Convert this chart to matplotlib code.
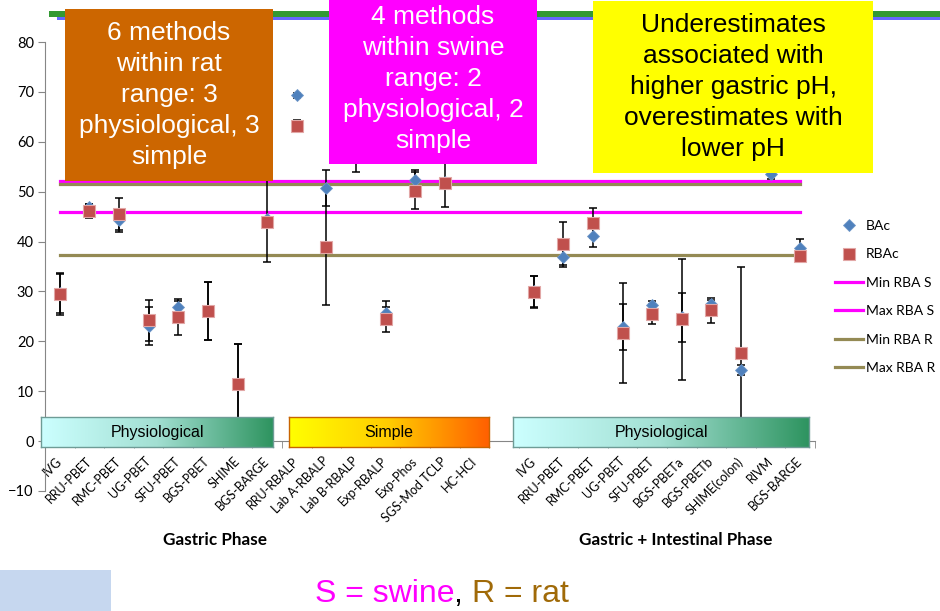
import numpy as np
import matplotlib
matplotlib.use('Agg')
import matplotlib.pyplot as plt
from matplotlib.patches import Rectangle
from matplotlib.colors import LinearSegmentedColormap

# ---------------- data ----------------
gastric_methods = ["IVG", "RRU-PBET", "RMC-PBET", "UG-PBET", "SFU-PBET", "BGS-PBET",
                   "SHIME", "BGS-BARGE", "RRU-RBALP", "Lab A-RBALP", "Lab B-RBALP",
                   "Exp-RBALP", "Exp-Phos", "SGS-Mod TCLP", "HC-HCl"]
gi_methods = ["IVG", "RRU-PBET", "RMC-PBET", "UG-PBET", "SFU-PBET", "BGS-PBETa",
              "BGS-PBETb", "SHIME(colon)", "RIVM", "BGS-BARGE"]
categories = gastric_methods + [""] + gi_methods

nan = np.nan
bac = [29.6, 47.0, 44.3, 23.0, 26.8, 26.0, 11.5, 44.6, 69.3, 50.8, 59.0, 25.7, 52.4, 52.0, nan,
       nan,
       30.0, 36.9, 41.2, 22.8, 27.3, 24.8, 27.5, 14.2, 53.5, 38.7]
bac_err = [3.9, 0.6, 2.3, 3.8, 1.3, 5.8, 8.0, 8.7, 0.5, 3.6, 5.0, 2.4, 1.9, 0.5, nan,
           nan,
           3.1, 2.1, 2.2, 4.6, 0.8, 4.9, 0.8, 1.0, 1.0, 1.8]
rbac = [29.4, 46.2, 45.6, 24.2, 24.8, 26.1, 11.4, 43.9, 63.2, 39.0, 59.5, 24.4, 50.2, 51.7, nan,
        nan,
        29.9, 39.6, 43.7, 21.7, 25.4, 24.4, 26.2, 17.6, nan, 37.2]
rbac_err = [4.2, 1.4, 3.2, 4.1, 3.6, 5.8, 8.1, 1.1, 1.2, 11.7, 3.0, 2.5, 3.7, 4.7, nan,
            nan,
            3.2, 4.3, 3.0, 10.0, 2.0, 12.1, 2.5, 17.3, nan, 1.0]

min_rba_s = 46.0
max_rba_s = 52.1
min_rba_r = 37.3
max_rba_r = 51.6

y_ticks = [-10, 0, 10, 20, 30, 40, 50, 60, 70, 80]

# ---------------- styling ----------------
W, H = 940, 611
CHART_FONT = ['Lato', 'DejaVu Sans']
BOX_FONT = ['Liberation Sans', 'DejaVu Sans']
plt.rcParams['font.family'] = CHART_FONT

MAG = '#FF00FF'
OLIVE = '#948A54'
BLUE = '#4F81BD'
RED = '#C0504D'
AXIS_GRAY = '#868686'

fig = plt.figure(figsize=(W / 100, H / 100), dpi=100)
fig.patch.set_facecolor('white')


def fx(px):
    return px / W


def fy(py):
    return 1 - py / H


ax = fig.add_axes([fx(45), fy(491), fx(815) - fx(45), fy(42) - fy(491)])
n = len(categories)
x = np.arange(n)
ax.set_xlim(-0.5, n - 0.5)
ax.set_ylim(-10, 80)

# reference range lines
l1, = ax.plot(x, np.full(n, min_rba_s), color=MAG, lw=2.3, zorder=1, label='Min RBA S')
l2, = ax.plot(x, np.full(n, max_rba_s), color=MAG, lw=2.3, zorder=1, label='Max RBA S')
l3, = ax.plot(x, np.full(n, min_rba_r), color=OLIVE, lw=2.3, zorder=1, label='Min RBA R')
l4, = ax.plot(x, np.full(n, max_rba_r), color=OLIVE, lw=2.3, zorder=1, label='Max RBA R')

# error bars
ax.errorbar(x, bac, yerr=bac_err, fmt='none', ecolor='black', elinewidth=1.1,
            capsize=3, capthick=1.1, zorder=2)
ax.errorbar(x, rbac, yerr=rbac_err, fmt='none', ecolor='black', elinewidth=1.1,
            capsize=3, capthick=1.1, zorder=2)

# markers
m1, = ax.plot(x, bac, ls='none', marker='D', ms=6.3, color=BLUE, mec='#6F97C8',
              mew=0.6, zorder=3, label='BAc')
m2, = ax.plot(x, rbac, ls='none', marker='s', ms=9, color=RED, mec='#E2A7A6',
              mew=0.8, zorder=4, label='RBAc')

# axes styling
for s in ['top', 'right']:
    ax.spines[s].set_visible(False)
ax.spines['left'].set_color(AXIS_GRAY)
ax.spines['bottom'].set_color(AXIS_GRAY)
ax.spines['bottom'].set_position(('data', 0))
ax.set_yticks(y_ticks)
ax.tick_params(axis='y', direction='out', length=5, color=AXIS_GRAY,
               labelsize=10.5, pad=3)
ax.set_xticks(x)
ax.set_xticklabels(categories, rotation=45, ha='right', va='center',
                   rotation_mode='anchor', fontsize=9)
ax.tick_params(axis='x', which='major', length=0, pad=13)
ax.set_xticks(np.arange(n + 1) - 0.5, minor=True)
ax.tick_params(axis='x', which='minor', direction='out', length=5, color=AXIS_GRAY)

# legend
leg = ax.legend(handles=[m1, m2, l1, l2, l3, l4], loc='upper left',
                bbox_to_anchor=(fx(835), fy(220)), bbox_transform=fig.transFigure,
                frameon=False, fontsize=10, handlelength=2.0, handletextpad=0.2,
                labelspacing=1.18, borderaxespad=0, borderpad=0)

# axis titles
fig.text(fx(215), fy(540), 'Gastric Phase', ha='center', va='center',
         fontsize=12.3, fontweight='bold')
fig.text(fx(676), fy(540), 'Gastric + Intestinal Phase', ha='center', va='center',
         fontsize=12.3, fontweight='bold')


# ---------------- category gradient boxes ----------------
def grad_box(x0, x1, y0, y1, colors, edge, label):
    bax = fig.add_axes([fx(x0), fy(y1), fx(x1) - fx(x0), fy(y0) - fy(y1)])
    g = np.linspace(0, 1, 256)[None, :]
    cmap = LinearSegmentedColormap.from_list('g', colors)
    bax.imshow(g, aspect='auto', cmap=cmap, extent=[0, 1, 0, 1], interpolation='bilinear')
    bax.set_xlim(0, 1)
    bax.set_ylim(0, 1)
    bax.set_xticks([])
    bax.set_yticks([])
    for s in bax.spines.values():
        s.set_color(edge)
        s.set_linewidth(1.0)
    bax.text(0.5, 0.5, label, ha='center', va='center', fontsize=11.5,
             family=BOX_FONT, color='black')


phys_colors = [(0, '#CCFFFF'), (0.5, '#A2DFD2'), (1, '#2E9460')]
simple_colors = [(0, '#FFFF00'), (0.5, '#FFCC00'), (1, '#FF6000')]
grad_box(41, 273, 417, 447, phys_colors, '#6E9C96', 'Physiological')
grad_box(289, 489, 417, 447, simple_colors, '#C86400', 'Simple')
grad_box(513, 809, 417, 447, phys_colors, '#6E9C96', 'Physiological')


# ---------------- slide decorations & text boxes ----------------
def prect(x0, y0, x1, y1, color, z):
    fig.add_artist(Rectangle((fx(x0), fy(y1)), fx(x1) - fx(x0), fy(y0) - fy(y1),
                             transform=fig.transFigure, facecolor=color,
                             edgecolor='none', zorder=z))


prect(49, 11, 940, 17, '#339933', 1)
prect(57, 17, 940, 19.5, '#6666FF', 1)
prect(0, 570, 111, 611, '#C6D7EF', 1)

BOX_LS = 1.38

prect(65, 9, 273, 181, '#CC6600', 5)
fig.text(fx(169), fy(95), '6 methods\nwithin rat\nrange: 3\nphysiological, 3\nsimple',
         ha='center', va='center', fontsize=19, color='white', family=BOX_FONT,
         linespacing=BOX_LS, zorder=6)

prect(329, 0, 537, 164, '#FF00FF', 5)
fig.text(fx(433), fy(79), '4 methods\nwithin swine\nrange: 2\nphysiological, 2\nsimple',
         ha='center', va='center', fontsize=19, color='white', family=BOX_FONT,
         linespacing=BOX_LS, zorder=6)

prect(593, 1, 873, 173, '#FFFF00', 5)
fig.text(fx(733), fy(87), 'Underestimates\nassociated with\nhigher gastric pH,\n'
         'overestimates with\nlower pH',
         ha='center', va='center', fontsize=19, color='black', family=BOX_FONT,
         linespacing=BOX_LS, zorder=6)

# bottom multi-coloured note
fig.canvas.draw()
renderer = fig.canvas.get_renderer()
t1 = fig.text(fx(315), fy(594), 'S = swine', ha='left', va='center', fontsize=23,
              color=MAG, family=BOX_FONT)
fig.canvas.draw()
bb = t1.get_window_extent(renderer)
t2 = fig.text(bb.x1 / W, fy(594), ', ', ha='left', va='center', fontsize=23,
              color='black', family=BOX_FONT)
fig.canvas.draw()
bb2 = t2.get_window_extent(renderer)
fig.text(bb2.x1 / W, fy(594), 'R = rat', ha='left', va='center', fontsize=23,
         color='#A06A08', family=BOX_FONT)

fig.savefig('out.png', dpi=100)
